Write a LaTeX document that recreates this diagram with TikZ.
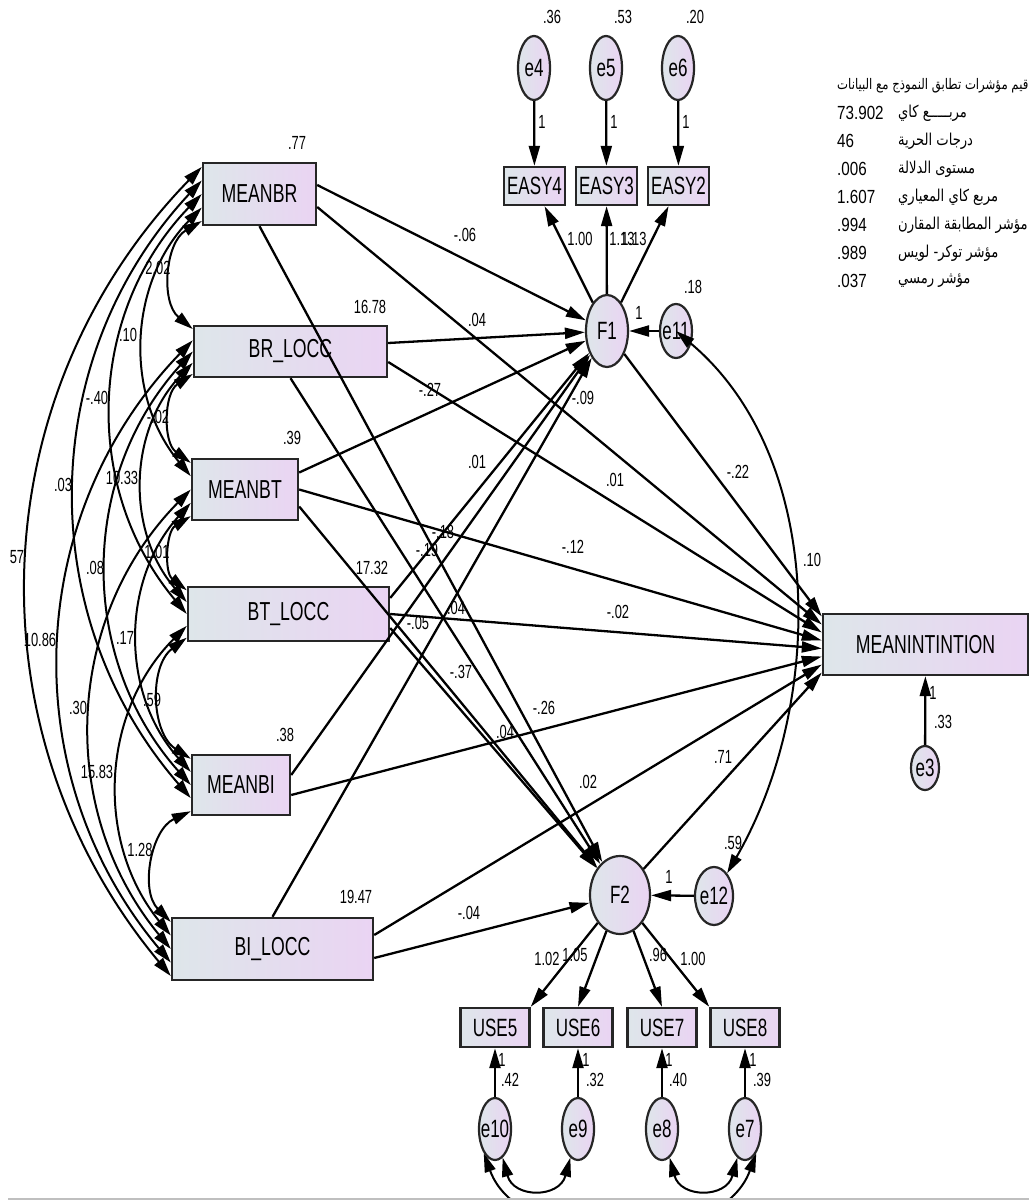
\documentclass[tikz,border=0pt]{standalone}
\usepackage{fontspec}
\setmainfont{Liberation Sans}[FakeStretch=0.68]
\newfontfamily\legfont{Liberation Sans}[FakeStretch=0.8]
\newfontfamily\arabicfont[Script=Arabic,FakeStretch=0.8]{DejaVu Sans}
\TeXXeTstate=1
\usetikzlibrary{arrows.meta,calc,shapes.geometric}
\definecolor{shadeL}{RGB}{222,230,234}
\definecolor{shadeR}{RGB}{234,212,243}
\tikzstyle{obs}=[draw=black!85,line width=2.4pt,rectangle,left color=shadeL,right color=shadeR,inner sep=0pt,font=\fontsize{26}{28}\selectfont]
\tikzstyle{lat}=[draw=black!85,line width=2.2pt,ellipse,left color=shadeL,right color=shadeR,inner sep=-3pt,font=\fontsize{25}{27}\selectfont]
\tikzstyle{reg}=[line width=2.3pt,-{Triangle[length=20pt,width=11pt]}]
\tikzstyle{cov}=[line width=2pt,{Triangle[length=19pt,width=11pt]}-{Triangle[length=19pt,width=11pt]}]
\tikzstyle{est}=[inner sep=0pt,font=\fontsize{19}{21}\selectfont]
\tikzstyle{legnum}=[inner sep=0pt,anchor=west,font=\legfont\fontsize{19}{21}\selectfont]
\tikzstyle{artxt}=[inner sep=0pt,anchor=west,font=\arabicfont\fontsize{16.4}{18}\selectfont]

\begin{document}
\begin{tikzpicture}[x=1pt,y=-1pt]
\useasboundingbox (0,0) rectangle (1029,1201);
\begin{scope}
\clip (0,0) rectangle (1029,1197);
% observed exogenous
\node[obs,minimum width=113pt,minimum height=62pt] (mbr) at (259.5,194) {MEANBR};
\node[obs,minimum width=193pt,minimum height=51pt] (brl) at (290.5,351.5) {BR\_LOCC};
\node[obs,minimum width=106pt,minimum height=61pt] (mbt) at (245,489.5) {MEANBT};
\node[obs,minimum width=201pt,minimum height=54pt] (btl) at (288.5,614) {BT\_LOCC};
\node[obs,minimum width=98pt,minimum height=60pt] (mbi) at (241,785) {MEANBI};
\node[obs,minimum width=201pt,minimum height=62pt] (bil) at (272.5,949) {BI\_LOCC};
\node[obs,minimum width=205pt,minimum height=61pt] (mi) at (925.5,644.5) {MEANINTINTION};
% latent
\node[lat,minimum width=42pt,minimum height=72pt] (F1) at (607,331) {F1};
\node[lat,minimum width=60pt,minimum height=78pt] (F2) at (620,895) {F2};
\node[lat,minimum width=32pt,minimum height=54pt] (e11) at (676,331) {e11};
\node[lat,minimum width=38pt,minimum height=58pt] (e12) at (714,896) {e12};
\node[lat,minimum width=28pt,minimum height=44pt] (e3) at (925,768) {e3};
% indicators of F1
\foreach \n/\e/\x in {4/4/534,3/5/606,2/6/678} {
  \node[lat,minimum width=32pt,minimum height=64pt] (e\e) at (\x,68) {e\e};
  \node[obs,minimum width=61pt,minimum height=38pt,font=\fontsize{25}{27}\selectfont] (easy\n) at (\x+0.5,186) {EASY\n};
  \draw[reg] (e\e) -- (easy\n);
  \draw[reg] (F1) -- (easy\n);
}
% indicators of F2
\foreach \n/\e/\x in {5/10/495,6/9/578,7/8/662,8/7/745} {
  \node[obs,minimum width=69pt,minimum height=39pt,font=\fontsize{25}{27}\selectfont] (use\n) at (\x,1027.5) {USE\n};
  \node[lat,minimum width=32pt,minimum height=62pt] (e\e) at (\x,1129) {e\e};
  \draw[reg] (e\e) -- (use\n);
}
\draw[reg] (F2) -- (use5.north east);
\draw[reg] (F2) -- (use6.north);
\draw[reg] (F2) -- (use7.north);
\draw[reg] (F2) -- (use8.north west);
\draw[cov] (e10) to[out=-75,in=-105,looseness=1.6] (e9);
\draw[cov] (e8) to[out=-75,in=-105,looseness=1.6] (e7);
\draw[cov] (e10.-115) to[out=-70,in=-110] (e7.-65);
% disturbances
\draw[reg] (e11) -- (F1);
\draw[reg] (e12) -- (F2);
\draw[reg] (e3) -- (mi);
\draw[cov] (e12) to[out=60,in=-40,looseness=0.92] (e11.center);
% heads on MEANINTINTION
\foreach \k in {1,...,8}
  \coordinate (mi\k) at ($(mi.west)+(0,{(\k-4.5)*8})$);
\draw[reg] ([yshift=9pt]mbr.east) -- (F1);
\draw[reg] ([yshift=-13pt]mbr.east) -- (mi2);
\draw[reg] (mbr.south) -- (F2);
\draw[reg] ([yshift=8.5pt]brl.east) -- (F1);
\draw[reg] ([yshift=-10.5pt]brl.east) -- (mi3);
\draw[reg] (brl.south) -- (F2);
\draw[reg] ([yshift=17pt]mbt.east) -- (F1);
\draw[reg] (mbt.east) -- (mi4);
\draw[reg] ([yshift=-17pt]mbt.east) -- (F2);
\draw[reg] ([yshift=16pt]btl.east) -- (F1);
\draw[reg] (btl.east) -- (mi5);
\draw[reg] ([yshift=-14pt]btl.east) -- (F2);
\draw[reg] ([yshift=10pt]mbi.east) -- (F1);
\draw[reg] ([yshift=-10pt]mbi.east) -- (mi6);
\draw[reg] (bil.north) -- (F1);
\draw[reg] ([yshift=14pt]bil.east) -- (mi7);
\draw[reg] ([yshift=-9pt]bil.east) -- (F2);
\draw[reg] (F1) -- (mi1);
\draw[reg] (F2) -- (mi8);
% covariances among exogenous
\foreach \b in {mbr,brl,mbt,btl,mbi,bil}
  \foreach \k/\f in {0/0.08,1/0.29,2/0.5,3/0.71,4/0.92}
    \coordinate (\b-\k) at ($(\b.north west)!\f!(\b.south west)$);
\draw[cov] (mbr-4) to[bend right=55] (brl-0);
\draw[cov] (mbr-3) to[bend right=42] (mbt-1);
\draw[cov] (mbr-2) to[bend right=42] (btl-2);
\draw[cov] (mbr-1) to[bend right=42] (mbi-3);
\draw[cov] (mbr-0) to[bend right=42] (bil-4);
\draw[cov] (brl-4) to[bend right=55] (mbt-0);
\draw[cov] (brl-3) to[bend right=42] (btl-1);
\draw[cov] (brl-2) to[bend right=42] (mbi-2);
\draw[cov] (brl-1) to[bend right=42] (bil-3);
\draw[cov] (mbt-4) to[bend right=55] (btl-0);
\draw[cov] (mbt-3) to[bend right=42] (mbi-1);
\draw[cov] (mbt-2) to[bend right=42] (bil-2);
\draw[cov] (btl-4) to[bend right=55] (mbi-0);
\draw[cov] (btl-3) to[bend right=42] (bil-1);
\draw[cov] (mbi-4) to[bend right=55] (bil-0);
% estimates
\foreach \x/\y/\t [count=\n] in {297/143/.77,370/307/16.78,292/438/.39,372/568/17.32,285/735/.38,356/897/19.47,
  552/17/.36,623/17/.53,695/17/.20,693/287/.18,733/843/.59,943/722/.33,510/1080/.42,595/1080/.32,678/1080/.40,762/1080/.39}
  \node[est] (var\n) at (\x,\y) {\t};
\foreach \x/\y [count=\n] in {542/122,614/122,686/122,639/313,669/877,933/693,502/1060,586/1060,669/1060,753/1060}
  \node[est] (fix\n) at (\x,\y) {1};
\foreach \x/\y/\t [count=\n] in {580/239/1.00,622/239/1.13,634/239/1.13,547/959/1.02,575/955/1.05,658/955/.96,693/959/1.00}
  \node[est] (load\n) at (\x,\y) {\t};
\foreach \x/\y/\t [count=\n] in {465/235/-.06,477/320/.04,430/390/-.27,583/398/-.09,477/462/.01,615/480/.01,738/472/-.22,
  812/560/.10,443/532/-.18,427/550/-.19,573/547/-.12,618/612/-.02,418/623/-.05,456/608/.04,461/672/-.37,544/708/-.26,
  505/732/.04,723/757/.71,588/782/.02,469/913/-.04}
  \node[est] (reg\n) at (\x,\y) {\t};
\foreach \x/\y/\t [count=\n] in {158/268/2.02,128/335/.10,97/398/-.40,158/417/-.02,63/485/.03,122/478/10.33,17/557/57,
  95/568/.08,157/552/1.01,40/640/10.86,125/638/.17,78/708/.30,152/700/.59,97/772/15.83,140/850/1.28}
  \node[est] (cv\n) at (\x,\y) {\t};
% fit indices
\node[artxt,font=\arabicfont\fontsize{14.6}{17}\selectfont] (fithead) at (837,86) {\beginR قيم مؤشرات تطابق النموذج مع البيانات\endR};
\foreach \v/\t [count=\k] in {73.902/مربـــــع كاي,46/درجات الحرية,.006/مستوى الدلالة,1.607/مربع كاي المعياري,
  .994/مؤشر المطابقة المقارن,.989/مؤشر توكر- لويس,.037/مؤشر رمسي} {
  \node[legnum] (fitv\k) at (837,{85+28*\k}) {\v};
  \node[artxt] (fitn\k) at (898,{85+28*\k}) {\beginR\t\endR};
}
\end{scope}
\draw[gray!50,line width=2pt] (8,1199) -- (1029,1199);
\end{tikzpicture}
\end{document}
